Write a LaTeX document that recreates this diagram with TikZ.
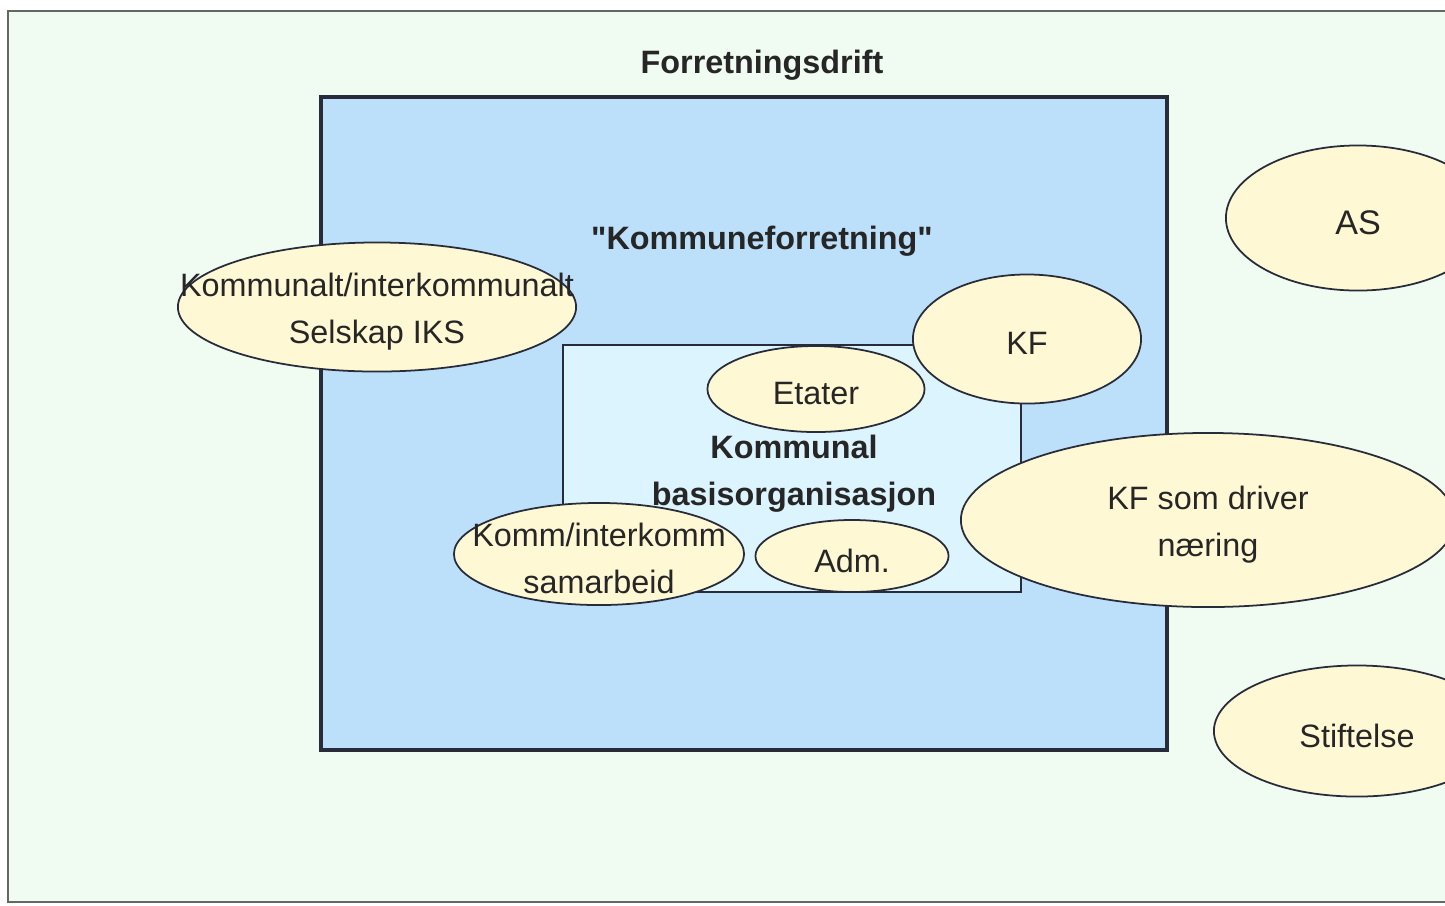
\documentclass[tikz,border=0pt]{standalone}
\usepackage{fontspec}
\setmainfont{Liberation Sans}
\usepackage{xcolor}
\usetikzlibrary{shapes.geometric}
\definecolor{bgmint}{RGB}{240, 251, 241}
\definecolor{kfblue}{RGB}{188, 224, 250}
\definecolor{basisblue}{RGB}{220, 244, 253}
\definecolor{blobcream}{RGB}{255, 248, 212}
\definecolor{edgedark}{RGB}{40, 44, 58}

\tikzset{
  blob/.style={ellipse, draw=edgedark, line width=0.5pt, fill=blobcream, inner sep=0pt},
  blobtext/.style={font=\fontsize{9.2}{13.2}\selectfont, align=center, text=black!85, yshift=-0.045cm},
  headtext/.style={font=\fontsize{9.2}{13.2}\selectfont\bfseries, align=center, text=black!85, yshift=-0.035cm}
}

\begin{document}
\begin{tikzpicture}[x=0.01cm, y=-0.01cm]
\useasboundingbox (0,0) rectangle (1445,905);
\clip (0,0) rectangle (1445,905);
\fill[white] (0,0) rectangle (1445,905);

% Forretningsdrift
\draw[draw=black!60, line width=0.5pt, fill=bgmint] (8,11) rectangle (1470,902);
\node[headtext] (drift) at (762,62) {Forretningsdrift};

% Kommuneforretning
\draw[draw=edgedark, line width=0.9pt, fill=kfblue] (321,97) rectangle (1167,750);
\node[headtext] (kforr) at (762,238) {\textquotedbl Kommuneforretning\textquotedbl};

% basisorganisasjon
\draw[draw=edgedark, line width=0.35pt, fill=basisblue] (563,345) rectangle (1021,592);
\node[headtext] (basis) at (794,470) {Kommunal\\basisorganisasjon};

% ellipses
\node[blob, minimum width=3.98cm, minimum height=1.29cm] (iks) at (377,307) {};
\node[blobtext] at (iks.center) {Kommunalt/interkommunalt\\Selskap IKS};

\node[blob, minimum width=2.28cm, minimum height=1.29cm] (kf) at (1027,339) {};
\node[blobtext] at (kf.center) {KF};

\node[blob, minimum width=2.17cm, minimum height=0.86cm] (etater) at (816,389) {};
\node[blobtext] at (etater.center) {Etater};

\node[blob, minimum width=1.93cm, minimum height=0.72cm] (adm) at (852,556) {};
\node[blobtext] at (adm.center) {Adm.};

\node[blob, minimum width=2.90cm, minimum height=1.02cm] (samarb) at (599,554) {};
\node[blobtext] at (samarb.center) {Komm/interkomm\\samarbeid};

\node[blob, minimum width=4.94cm, minimum height=1.74cm] (kfnaering) at (1208,520) {};
\node[blobtext] at (kfnaering.center) {KF som driver\\næring};

\node[blob, minimum width=2.64cm, minimum height=1.45cm] (as) at (1358,218) {};
\node[blobtext, font=\fontsize{9.7}{13.2}\selectfont] at (as.center) {AS};

\node[blob, minimum width=2.86cm, minimum height=1.31cm] (stift) at (1357,731) {};
\node[blobtext] at (stift.center) {Stiftelse};
\end{tikzpicture}
\end{document}
